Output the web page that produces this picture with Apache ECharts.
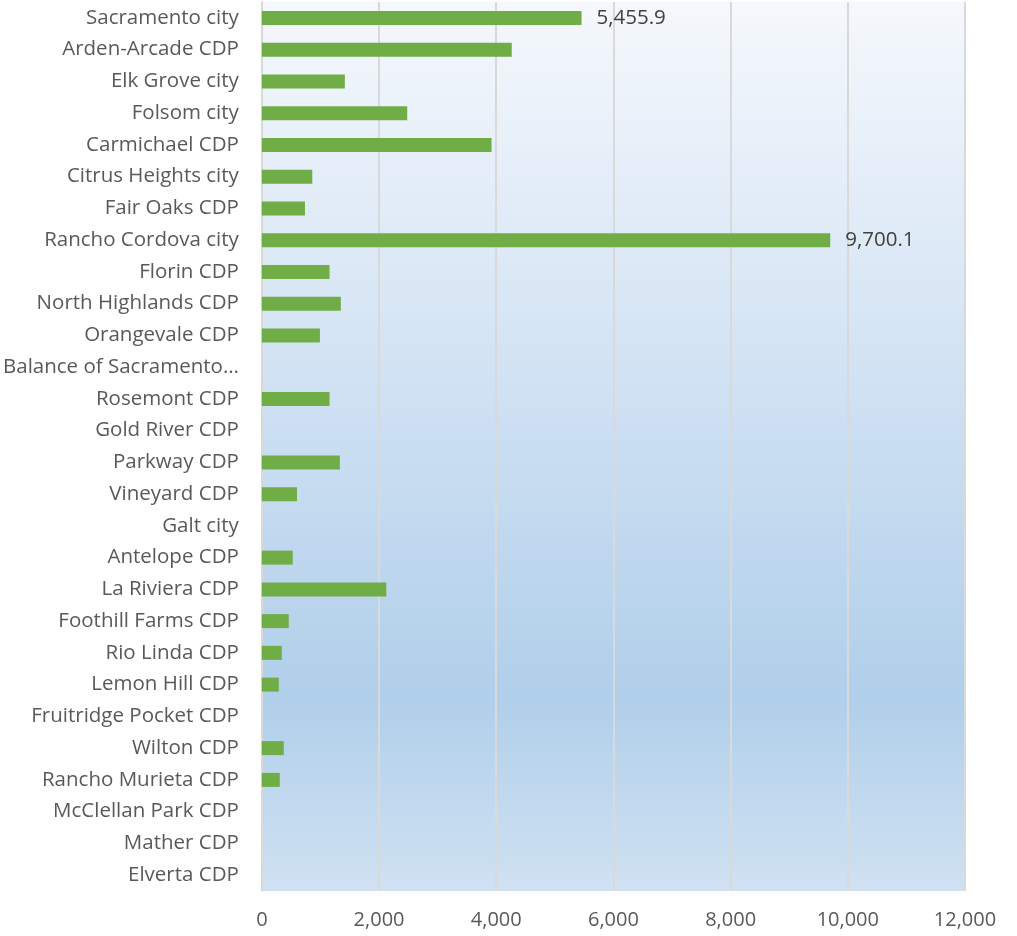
<!DOCTYPE html>
<html>
<head>
<meta charset="utf-8">
<script src="https://cdn.jsdelivr.net/npm/echarts@6/dist/echarts.min.js"></script>
<style>
  html, body { margin: 0; padding: 0; background: #fff; }
  #chart { width: 1017px; height: 936px; }
</style>
</head>
<body>
<div id="chart"></div>
<script>
const places = [
  'Sacramento city', 'Arden-Arcade CDP', 'Elk Grove city', 'Folsom city',
  'Carmichael CDP', 'Citrus Heights city', 'Fair Oaks CDP', 'Rancho Cordova city',
  'Florin CDP', 'North Highlands CDP', 'Orangevale CDP', 'Balance of Sacramento…',
  'Rosemont CDP', 'Gold River CDP', 'Parkway CDP', 'Vineyard CDP', 'Galt city',
  'Antelope CDP', 'La Riviera CDP', 'Foothill Farms CDP', 'Rio Linda CDP',
  'Lemon Hill CDP', 'Fruitridge Pocket CDP', 'Wilton CDP', 'Rancho Murieta CDP',
  'McClellan Park CDP', 'Mather CDP', 'Elverta CDP'
]
const values = [
  5455.9, 4265, 1416, 2481, 3920, 861, 736, 9700.1,
  1155, 1348, 991, 0, 1155, 0, 1331, 600, 0,
  527, 2124, 459, 340, 289, 0, 374, 306, 0, 0, 0
]
// only these two bars carry a data label in the original
const labelled = ['Sacramento city', 'Rancho Cordova city']
const xTicks = [0, 2000, 4000, 6000, 8000, 10000, 12000]

const fmt = v => v.toLocaleString('en-US', { minimumFractionDigits: 1, maximumFractionDigits: 1 })

const chart = echarts.init(document.getElementById('chart'))
chart.setOption({
  animation: false,
  textStyle: { fontFamily: 'Open Sans' },
  grid: {
    left: 260, right: 52, top: 2, bottom: 45,
    show: true,
    borderWidth: 0,
    backgroundColor: new echarts.graphic.LinearGradient(0, 0, 0, 1, [
      { offset: 0, color: '#f5f8fc' },
      { offset: 0.4, color: '#d3e3f4' },
      { offset: 0.78, color: '#b0cfea' },
      { offset: 1, color: '#d0e1f2' }
    ])
  },
  xAxis: {
    type: 'value',
    min: xTicks[0],
    max: xTicks[xTicks.length - 1],
    interval: 2000,
    axisLine: { show: false },
    axisTick: { show: false },
    axisLabel: {
      color: '#595959', fontSize: 20, margin: 19,
      formatter: v => v.toLocaleString('en-US')
    },
    splitLine: { lineStyle: { color: '#d9d9d9', width: 2 } }
  },
  yAxis: {
    type: 'category',
    data: places,
    inverse: true,
    axisLine: { show: true, lineStyle: { color: '#d9d9d9', width: 2 } },
    axisTick: { show: false },
    axisLabel: { color: '#595959', fontSize: 20.5, margin: 23 }
  },
  series: [{
    type: 'bar',
    barWidth: 14,
    data: values.map((v, i) => ({
      value: v,
      label: {
        show: labelled.includes(places[i]),
        position: 'right',
        distance: 15,
        color: '#404040',
        fontSize: 20.5,
        formatter: p => fmt(p.value)
      }
    })),
    itemStyle: { color: '#70ad47' }
  }]
})
</script>
</body>
</html>
